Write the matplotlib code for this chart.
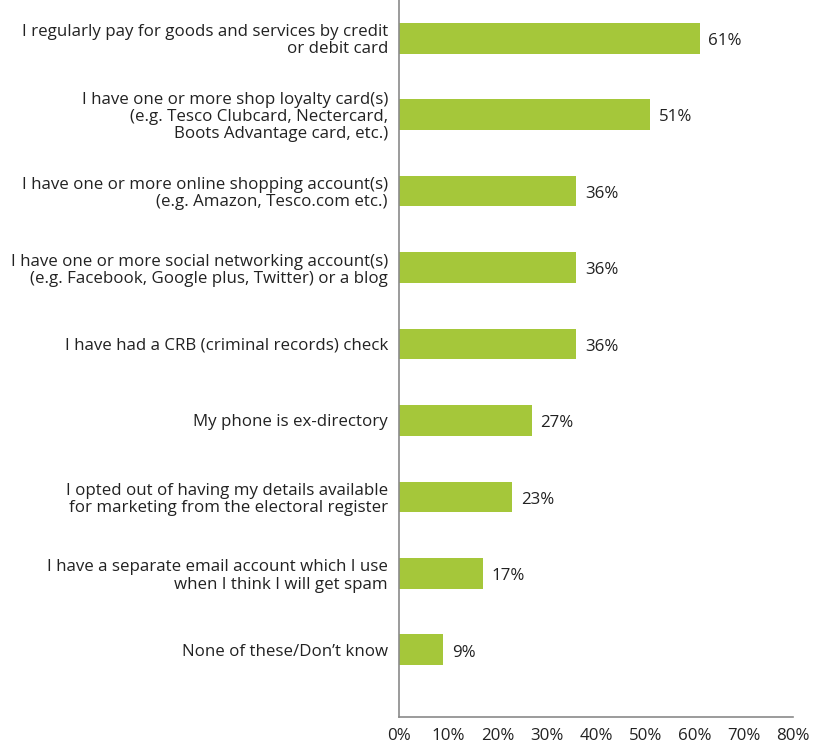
import matplotlib.pyplot as plt
from matplotlib.ticker import FuncFormatter

plt.rcParams['font.family'] = ['Open Sans', 'DejaVu Sans']

labels = [
    "I regularly pay for goods and services by credit\nor debit card",
    "I have one or more shop loyalty card(s)\n(e.g. Tesco Clubcard, Nectercard,\nBoots Advantage card, etc.)",
    "I have one or more online shopping account(s)\n(e.g. Amazon, Tesco.com etc.)",
    "I have one or more social networking account(s)\n(e.g. Facebook, Google plus, Twitter) or a blog",
    "I have had a CRB (criminal records) check",
    "My phone is ex-directory",
    "I opted out of having my details available\nfor marketing from the electoral register",
    "I have a separate email account which I use\nwhen I think I will get spam",
    "None of these/Don\u2019t know",
]
values = [61, 51, 36, 36, 36, 27, 23, 17, 9]
xticks = [0, 10, 20, 30, 40, 50, 60, 70, 80]

green = "#a5c73a"
text_col = "#222222"
fs = 12.2

fig = plt.figure(figsize=(8.28, 7.48), dpi=100)
ax = fig.add_axes([0.482, 0.0414, 0.476, 0.9586])

pos = list(range(len(values)))
ax.barh(pos, values, height=0.4, color=green)

for y, v in zip(pos, values):
    ax.annotate(f"{v}%", (v, y), xytext=(6, -2), textcoords="offset points",
                va="center", ha="left", fontsize=fs, color=text_col)

ax.set_yticks(pos)
ax.set_yticklabels(labels, fontsize=fs, color=text_col, linespacing=1.1)
ax.set_xticks(xticks)
ax.xaxis.set_major_formatter(FuncFormatter(lambda x, _: f"{x:.0f}%"))
ax.tick_params(axis="x", length=0, pad=8, labelsize=fs, labelcolor=text_col)
ax.tick_params(axis="y", length=0, pad=8)
for lab in ax.get_yticklabels():
    lab.set_horizontalalignment("right")
    lab.set_multialignment("right")

ax.set_xlim(0, 80)
ax.set_ylim(len(values) - 1 + 0.88, -0.5)

for side in ("top", "right"):
    ax.spines[side].set_visible(False)
for side in ("left", "bottom"):
    ax.spines[side].set_color("#8a8a8a")
    ax.spines[side].set_linewidth(1.2)

fig.savefig("out.png", dpi=100)
